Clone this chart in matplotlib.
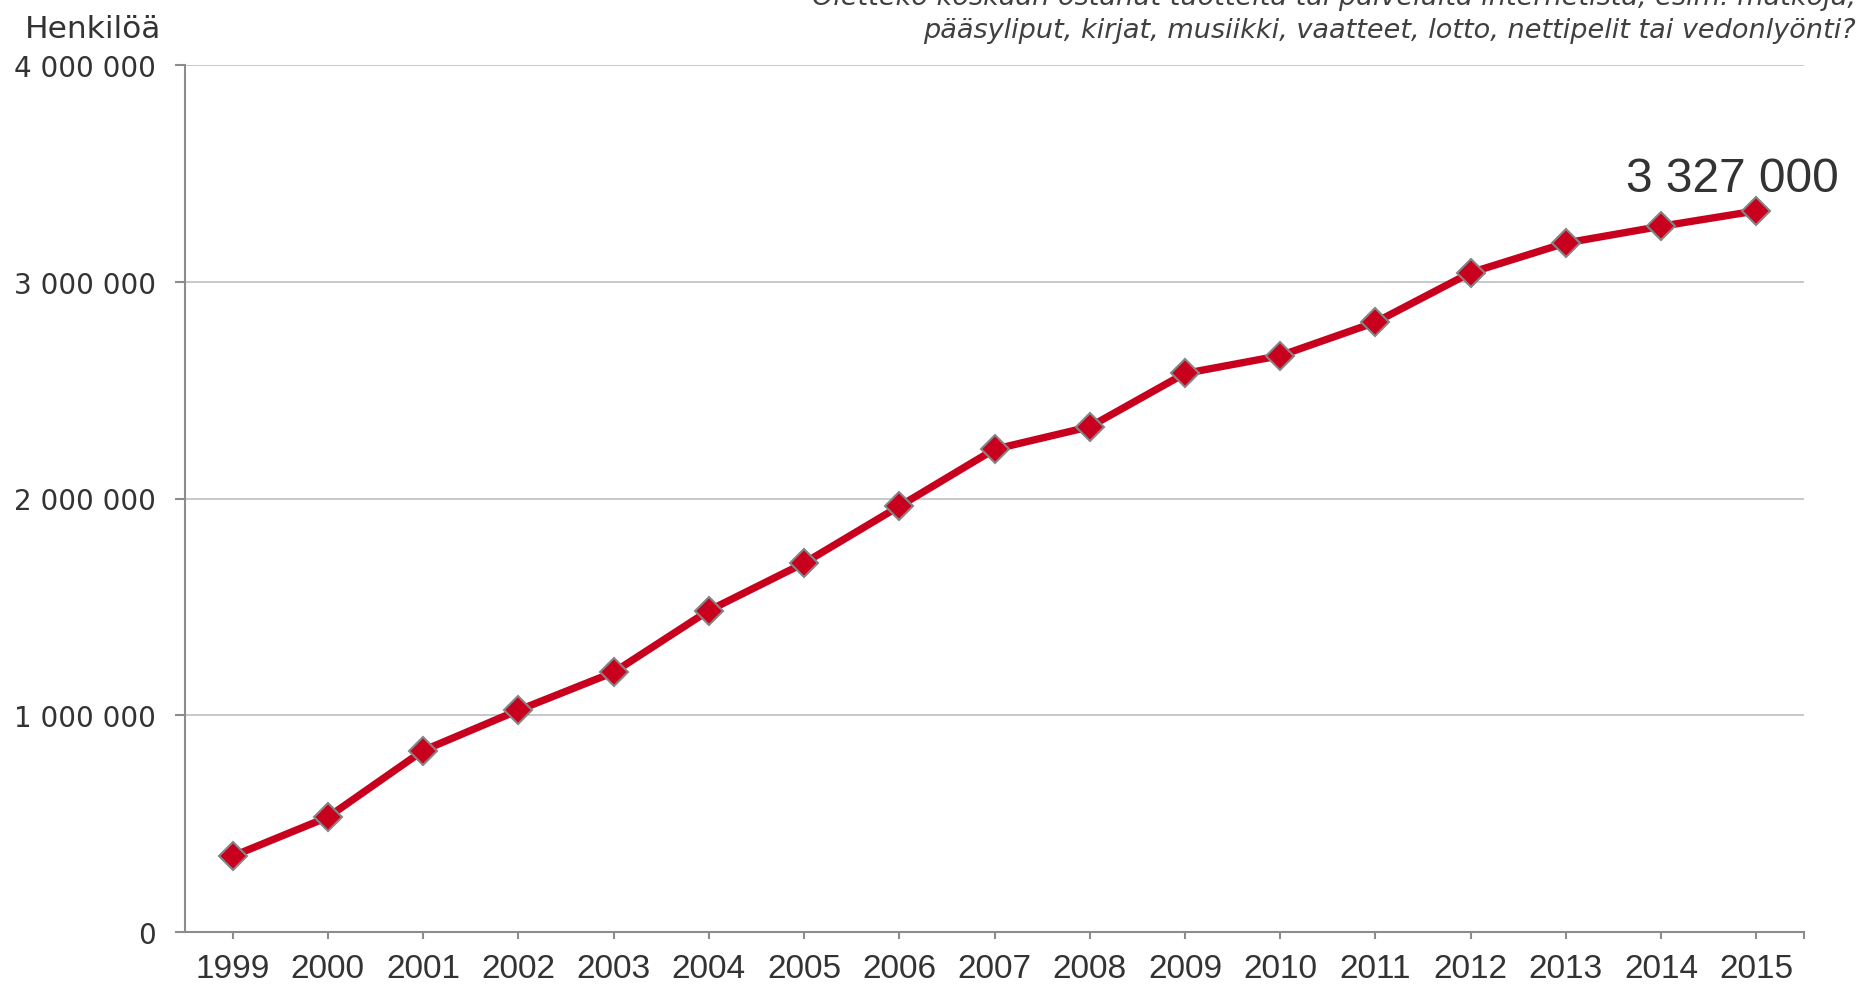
import matplotlib
matplotlib.use("Agg")
import matplotlib.pyplot as plt
from matplotlib.ticker import FuncFormatter

years = ["1999", "2000", "2001", "2002", "2003", "2004", "2005", "2006", "2007",
         "2008", "2009", "2010", "2011", "2012", "2013", "2014", "2015"]
persons = [350000, 530000, 837000, 1023000, 1198000, 1483000, 1702000, 1964000,
           2227000, 2331000, 2577000, 2659000, 2813000, 3042000, 3179000, 3256000,
           3327000]
y_ticks = [0, 1000000, 2000000, 3000000, 4000000]
y_label = "Henkilöä"
question_lines = ["Oletteko koskaan ostanut tuotteita tai palveluita internetistä, esim. matkoja,",
                  "pääsyliput, kirjat, musiikki, vaatteet, lotto, nettipelit tai vedonlyönti?"]
end_label = "3 327 000"

W, H = 1862, 987
fig = plt.figure(figsize=(W / 100, H / 100), dpi=100)
ax = fig.add_axes([185 / W, 1 - 933 / H, (1804 - 185) / W, (933 - 66) / H])

x = list(range(len(years)))
ax.plot(x, persons, color="#c8001e", lw=5.3, marker="D", markersize=14,
        markerfacecolor="#c8001e", markeredgecolor="#858585", markeredgewidth=1.5,
        zorder=3, clip_on=False)

ax.set_xlim(-0.5, len(years) - 0.5)
ax.set_ylim(0, 4000000)
ax.set_yticks(y_ticks)
ax.yaxis.set_major_formatter(FuncFormatter(lambda v, p: f"{int(v):,}".replace(",", " ")))
ax.set_xticks(x)
ax.set_xticklabels(years, fontfamily="Liberation Sans", fontsize=24, color="#333333")
ax.set_xticks([len(years) - 0.5], minor=True)

for lab in ax.get_yticklabels():
    lab.set_fontfamily("DejaVu Sans")
    lab.set_fontsize(20)
    lab.set_color("#333333")

ax.grid(axis="y", color="#bfbfbf", lw=1.2, zorder=0)
ax.set_axisbelow(True)
for s in ["top", "right"]:
    ax.spines[s].set_visible(False)
for s in ["left", "bottom"]:
    ax.spines[s].set_color("#8c8c8c")
    ax.spines[s].set_linewidth(1.5)
ax.tick_params(axis="y", direction="out", length=7, width=1.5, color="#8c8c8c", pad=14)
ax.tick_params(axis="x", which="both", direction="out", length=5, width=1.5, color="#8c8c8c", pad=10)

ax.annotate(end_label, xy=(x[-1], persons[-1]), xytext=(-17, 7), textcoords="offset points",
            ha="center", va="bottom", fontfamily="Liberation Sans", fontsize=34.5, color="#333333")

fig.text(25 / W, 1 - 38 / H, y_label, ha="left", va="baseline", fontfamily="DejaVu Sans",
         fontsize=22.5, color="#333333")
fig.text(1856 / W, 1 - 5 / H, question_lines[0], ha="right", va="baseline",
         fontfamily="DejaVu Sans", style="italic", fontsize=19.5, color="#404040")
fig.text(1856 / W, 1 - 38 / H, question_lines[1], ha="right", va="baseline",
         fontfamily="DejaVu Sans", style="italic", fontsize=19.5, color="#404040")

fig.savefig("out.png", dpi=100)
